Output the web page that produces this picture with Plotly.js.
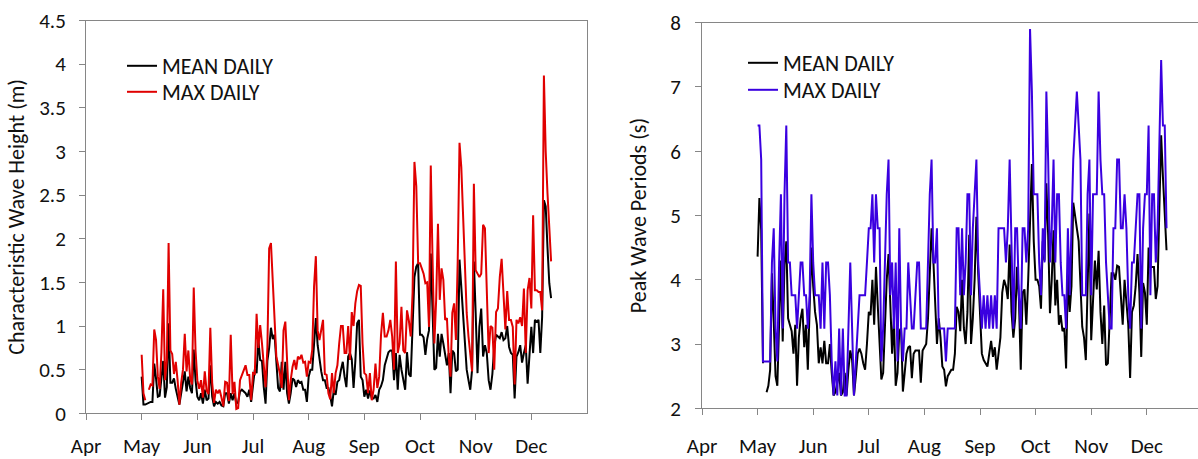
<!DOCTYPE html>
<html>
<head>
<meta charset="utf-8">
<script src="https://cdn.plot.ly/plotly-3.0.1.min.js"></script>
<style>
  html, body { margin: 0; padding: 0; background: #fff; overflow: hidden; }
  #chart { width: 1198px; height: 459px; }
</style>
</head>
<body>
<div id="chart"></div>
<script>
// Month tick labels (axis runs Apr .. end of Dec, one unit per month)
const monthLabels = ['Apr', 'May', 'Jun', 'Jul', 'Aug', 'Sep', 'Oct', 'Nov', 'Dec'];
const monthLengths = [30, 31, 30, 31, 31, 30, 31, 30, 31];
// number of daily records in each month (May 1 .. Dec 12)
const recordDays = [0, 31, 30, 31, 31, 30, 31, 30, 12];

// Characteristic wave height (m) – daily mean
const heightMean = [
  0.42,0.10,0.10,0.11,0.12,0.13,0.13,0.57,0.40,0.19,0.20,0.45,0.60,0.18,0.30,1.03,0.35,0.35,0.40,0.28,0.19,0.10,0.23,0.38,0.48,0.25,0.42,0.29,0.23,0.73,0.38,
  0.19,0.15,0.23,0.11,0.27,0.15,0.17,0.55,0.19,0.08,0.13,0.11,0.13,0.09,0.08,0.23,0.23,0.11,0.23,0.15,0.23,0.11,0.13,0.25,0.27,0.25,0.23,0.19,0.27,0.13,
  0.34,0.50,0.46,0.84,0.61,0.60,0.30,0.11,0.60,0.75,0.98,0.85,0.90,0.61,0.29,0.25,0.59,0.27,0.59,0.23,0.11,0.23,0.40,0.38,0.30,0.38,0.35,0.36,0.27,0.27,0.13,
  0.42,0.50,0.50,0.75,1.09,0.78,0.61,0.48,0.38,0.38,0.29,0.29,0.20,0.08,0.27,0.21,0.36,0.38,0.50,0.59,0.42,0.30,0.65,0.69,0.62,0.29,0.60,1.03,1.07,0.42,0.38,
  0.19,0.27,0.17,0.26,0.17,0.17,0.21,0.13,0.27,0.31,0.38,0.55,0.62,0.70,0.72,0.72,0.38,0.69,0.27,0.67,0.50,0.36,0.27,0.70,0.45,0.42,0.90,1.56,1.68,1.72,
  0.90,0.90,0.87,0.67,0.85,0.95,1.83,1.10,0.50,0.52,0.91,0.65,0.91,0.80,0.67,0.55,0.69,0.23,0.72,0.69,0.48,0.50,1.76,1.45,1.15,0.88,0.50,0.38,0.27,0.50,1.74,
  1.15,0.46,0.99,1.20,0.65,0.78,0.69,0.38,0.27,0.45,0.76,0.90,0.88,0.86,0.93,0.84,0.86,1.00,0.76,0.69,0.67,0.17,0.65,0.70,0.78,0.58,0.69,0.78,0.34,0.70,
  0.99,0.69,1.07,1.05,1.07,0.69,1.10,2.44,2.37,1.90,1.49,1.32
];
// Characteristic wave height (m) – daily max
const heightMax = [
  0.67,0.23,0.15,null,0.27,0.33,0.32,0.96,0.84,0.42,0.28,0.70,1.42,0.38,0.60,1.95,0.72,0.68,0.45,0.59,0.38,0.10,0.35,0.50,0.91,0.48,0.72,0.40,0.33,1.44,0.72,
  0.38,0.28,0.38,0.18,0.48,0.26,0.22,0.98,0.35,0.12,0.27,0.23,0.27,0.18,0.08,0.36,0.35,0.14,0.90,0.22,0.36,0.05,0.06,0.38,0.44,0.50,0.55,0.44,0.44,0.15,
  0.46,0.45,1.14,0.75,1.01,0.80,0.55,0.30,0.75,1.89,1.95,1.45,0.95,0.65,0.55,0.45,0.29,0.95,1.05,0.55,0.15,0.38,0.53,0.61,0.50,0.65,0.62,0.67,0.58,0.59,0.42,
  0.59,0.58,0.73,1.45,1.80,0.95,0.84,0.95,1.07,0.45,0.44,0.23,0.16,0.46,0.23,0.46,0.55,0.80,1.00,1.00,0.69,0.69,1.00,0.61,1.16,1.00,1.26,1.40,1.47,1.46,0.80,
  0.46,0.44,0.23,0.46,0.15,0.27,0.57,0.29,0.42,0.90,1.15,0.88,0.88,0.95,1.07,0.88,0.50,1.74,0.69,0.80,1.22,0.72,0.69,1.18,1.06,0.88,1.38,2.88,2.60,1.72,
  1.72,1.66,1.60,1.49,1.50,0.99,2.84,1.75,0.80,1.30,2.17,1.30,1.66,1.53,1.07,1.09,0.65,0.42,1.15,1.26,0.84,1.75,3.10,2.82,2.20,1.60,1.15,0.88,0.69,0.48,2.63,
  1.64,1.60,1.56,1.60,2.16,2.12,1.35,0.69,1.00,0.98,0.50,1.16,1.20,1.56,1.77,1.37,0.96,1.40,1.07,1.07,0.99,0.33,1.07,1.03,1.10,1.00,1.43,0.69,1.41,1.55,
  1.20,2.27,1.41,1.41,1.39,1.39,1.18,3.87,3.00,2.52,2.06,1.74
];
// Peak wave period (s) – daily mean
const periodMean = [
  4.36,5.27,4.77,2.70,null,2.25,2.35,2.60,4.10,3.35,2.50,2.35,3.50,4.30,3.04,4.23,4.60,3.40,3.30,3.20,2.85,3.30,2.35,3.10,3.40,3.55,2.95,3.30,2.60,3.60,4.50,
  3.90,3.50,3.30,2.70,2.95,2.70,3.05,2.70,2.70,3.00,2.55,2.20,2.25,2.40,2.55,2.20,2.25,2.55,2.20,2.60,2.90,2.75,2.20,2.50,2.85,2.93,2.85,2.70,2.60,3.00,
  3.50,3.45,4.00,3.30,4.20,3.60,3.00,2.45,2.55,3.40,4.00,4.40,3.63,2.85,3.40,2.35,2.55,3.20,3.25,2.26,2.55,2.85,2.95,2.97,2.47,2.85,2.90,2.90,2.90,2.40,2.90,
  2.95,3.00,3.40,4.20,4.80,4.30,3.50,3.00,3.40,3.10,2.65,2.60,2.34,2.50,2.55,2.60,2.60,2.85,3.58,3.50,3.20,4.00,3.25,3.00,3.50,4.70,3.00,3.40,4.00,4.98,4.10,
  3.40,2.85,2.75,2.70,2.65,2.85,3.05,2.80,2.95,2.60,2.90,3.10,3.80,4.00,3.90,3.70,4.55,3.50,3.10,3.40,4.20,3.70,2.60,3.80,3.85,3.30,4.00,5.00,5.80,4.60,
  4.00,4.00,3.90,3.55,4.60,4.30,5.50,4.70,3.48,4.00,4.77,3.60,4.00,3.30,3.45,3.20,3.25,2.62,4.10,3.50,3.90,5.20,4.95,4.80,4.60,3.90,3.27,3.10,2.75,3.90,5.03,
  3.06,3.80,4.30,3.85,4.45,3.50,3.00,3.60,2.67,2.70,3.30,4.10,4.10,4.00,4.22,4.20,3.75,3.30,4.00,3.60,3.30,2.47,3.50,3.60,3.90,4.40,3.80,2.80,3.95,3.80,
  3.30,4.50,4.20,4.20,4.20,3.70,3.90,5.10,6.25,5.60,5.00,4.46
];
// Peak wave period (s) – daily max
const periodMax = [
  6.40,6.40,5.87,2.73,2.73,2.73,2.73,2.73,4.27,4.80,3.24,2.73,4.27,5.33,3.24,5.33,6.40,4.27,4.27,3.76,3.76,3.76,3.24,3.76,4.27,4.27,3.76,3.76,3.24,3.76,5.33,
  4.27,3.76,3.76,3.76,3.24,4.27,3.24,4.27,4.27,3.76,2.73,2.20,2.73,2.20,3.24,2.20,3.24,2.20,2.20,3.24,4.27,3.24,2.20,2.73,3.24,3.76,3.76,3.76,3.76,4.27,
  4.80,4.80,5.33,4.27,5.33,4.80,4.80,2.73,3.24,4.27,5.33,5.87,3.76,4.27,3.24,4.27,2.73,4.80,3.24,2.73,3.24,3.24,4.27,3.76,3.24,3.24,3.76,4.27,4.27,3.24,3.24,
  3.24,3.24,4.27,5.33,5.87,4.27,4.27,4.80,3.24,3.24,3.24,3.24,2.73,3.24,3.24,3.24,3.24,3.24,4.80,4.80,3.76,4.80,3.76,4.27,5.33,5.33,3.76,4.80,5.33,5.87,4.27,
  3.76,3.24,3.76,3.24,3.76,3.24,3.76,3.24,3.76,3.24,4.80,4.80,4.80,4.80,4.27,4.80,5.87,4.27,3.24,4.80,4.80,3.76,3.24,4.80,4.80,4.27,4.80,7.90,6.93,5.33,
  5.33,5.33,4.27,3.76,4.80,4.27,6.93,5.87,4.27,4.80,5.87,4.27,5.33,5.33,4.27,3.76,3.76,3.24,4.80,3.76,4.80,5.87,6.40,6.93,6.40,5.87,3.76,3.76,3.76,5.33,5.87,
  3.76,5.33,5.33,5.33,6.93,5.87,5.33,5.33,4.27,3.76,3.24,3.24,4.80,4.80,5.87,5.87,4.80,4.80,5.33,4.80,3.76,3.24,4.27,4.27,4.80,5.33,5.33,3.24,4.80,5.33,
  5.33,6.40,3.76,5.33,5.33,4.27,4.80,6.40,7.42,6.40,6.40,4.80
];

// x position of each daily record on the month axis (Apr = 0, May = 1, ...)
const dayX = [];
for (let m = 1; m < recordDays.length; m++) {
  for (let d = 1; d <= recordDays[m]; d++) dayX.push(m + (d - 1) / monthLengths[m]);
}

const W = 1198, H = 459;
const font = 'Carlito, Calibri, Lato, "Open Sans", sans-serif';
const axisColor = '#868686';
const textColor = '#111';
const fs = 21;

function lineTrace(y, name, color, xa, ya, legend) {
  return {
    x: dayX.slice(0, y.length), y: y, name: name, type: 'scatter', mode: 'lines',
    line: { color: color, width: 2 }, xaxis: xa, yaxis: ya, legend: legend,
    connectgaps: false, hoverinfo: 'skip'
  };
}

const traces = [
  lineTrace(heightMean, 'MEAN DAILY', '#000000', 'x', 'y', 'legend'),
  lineTrace(heightMax, 'MAX DAILY', '#E00000', 'x', 'y', 'legend2'),
  lineTrace(periodMean, 'MEAN DAILY', '#000000', 'x2', 'y2', 'legend3'),
  lineTrace(periodMax, 'MAX DAILY', '#3A00E0', 'x2', 'y2', 'legend4')
];

function xAxis(domain, range, standoff) {
  return {
    domain: domain, range: range, tickmode: 'array',
    tickvals: monthLabels.map((_, i) => i), ticktext: monthLabels,
    showline: true, linecolor: axisColor, linewidth: 1, mirror: true,
    ticks: 'outside', ticklen: 6, tickcolor: axisColor, tickwidth: 1,
    showgrid: false, zeroline: false, ticklabelstandoff: standoff,
    tickfont: { family: font, size: fs, color: textColor }, fixedrange: true
  };
}
function yAxis(domain, range, dtick, title, mirror, anchor, standoff, titleStandoff) {
  return {
    domain: domain, range: range, dtick: dtick, tick0: range[0], anchor: anchor,
    showline: true, linecolor: axisColor, linewidth: 1, mirror: mirror,
    ticks: 'outside', ticklen: 6, tickcolor: axisColor, tickwidth: 1,
    showgrid: false, zeroline: false, ticklabelstandoff: standoff,
    tickfont: { family: font, size: fs, color: textColor },
    title: { text: title, font: { family: font, size: fs + 1, color: textColor }, standoff: titleStandoff },
    fixedrange: true
  };
}
function legendAt(px, pyTop) {
  return {
    x: px / W, y: 1 - pyTop / H, xanchor: 'left', yanchor: 'top',
    bgcolor: 'rgba(0,0,0,0)', borderwidth: 0,
    font: { family: font, size: fs + 1, color: textColor }
  };
}

const layout = {
  width: W, height: H,
  margin: { l: 0, r: 0, t: 0, b: 0 },
  paper_bgcolor: '#fff', plot_bgcolor: '#fff',
  showlegend: true,
  xaxis: Object.assign(xAxis([86 / W, 587 / W], [0, 9], 7), { anchor: 'y' }),
  yaxis: yAxis([1 - 413.3 / H, 1 - 20.5 / H], [0, 4.5], 0.5, 'Characteristic Wave Height (m)', true, 'x', 9, 8),
  xaxis2: Object.assign(xAxis([702 / W, 1], [0, (W - 702) / 55.6], 12), { anchor: 'y2' }),
  yaxis2: yAxis([1 - 408.3 / H, 1 - 22.7 / H], [2, 8], 1, 'Peak Wave Periods (s)', false, 'x2', 10, 17),
  legend: legendAt(122, 45),
  legend2: legendAt(122, 71),
  legend3: legendAt(743, 42),
  legend4: legendAt(743, 69)
};

Plotly.newPlot('chart', traces, layout, { displayModeBar: false, staticPlot: true });
</script>
</body>
</html>
